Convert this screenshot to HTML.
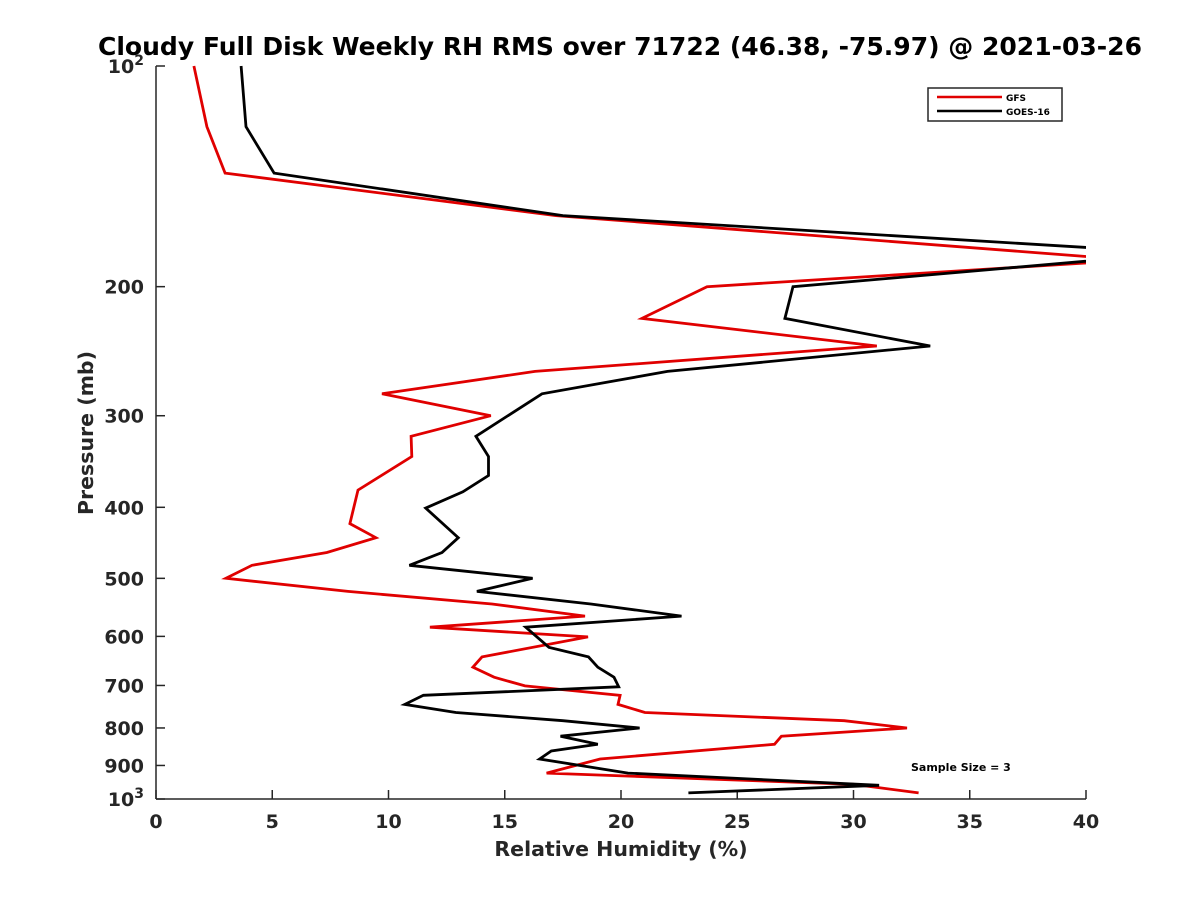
<!DOCTYPE html>
<html><head><meta charset="utf-8"><style>
body{margin:0;background:#fff;}
svg{display:block;font-family:"DejaVu Sans","Liberation Sans",sans-serif;font-weight:bold;}
</style></head><body>
<svg id="chart" width="1200" height="900" viewBox="0 0 1200 900" xmlns="http://www.w3.org/2000/svg">
<defs><clipPath id="plotclip"><rect x="156" y="60" width="930" height="745"/></clipPath></defs>
<rect width="1200" height="900" fill="#fff"/>
<text x="620" y="55" font-size="24.5" text-anchor="middle" fill="#000" textLength="1044" lengthAdjust="spacingAndGlyphs">Cloudy Full Disk Weekly RH RMS over 71722 (46.38, -75.97) @ 2021-03-26</text>
<g id="axes"></g>
<g id="series" clip-path="url(#plotclip)"></g>
<text x="621" y="856" font-size="20.5" text-anchor="middle" fill="#262626">Relative Humidity (%)</text>
<text transform="translate(93,433) rotate(-90)" font-size="20.5" text-anchor="middle" fill="#262626">Pressure (mb)</text>
<g>
<rect x="928" y="88" width="134" height="33" fill="#fff" stroke="#262626" stroke-width="1.5"/>
<line x1="937" y1="97" x2="1002" y2="97" stroke="#e00000" stroke-width="2.5"/>
<text x="1006" y="101" font-size="9" fill="#000">GFS</text>
<line x1="937" y1="111" x2="1002" y2="111" stroke="#000" stroke-width="2.5"/>
<text x="1006" y="115" font-size="9" fill="#000">GOES-16</text>
</g>
<text x="911" y="771" font-size="11" fill="#000">Sample Size = 3</text>
</svg>
<script>
const xTicks = [0,5,10,15,20,25,30,35,40];
const yTicks = [100,200,300,400,500,600,700,800,900,1000];
const yTickLabels = ["10|2","200","300","400","500","600","700","800","900","10|3"];
const gfsP = [100,121,140,160,184,200,221,241,261,280,300,320,341,379,421,440,461,480,500,521,542,563,583,601,640,661,682,701,722,743,762,782,800,821,842,882,922,955,981];
const gfsV = [1.63,2.19,2.97,17.2,42,23.7,20.9,31.0,16.3,9.72,14.4,10.97,11.0,8.69,8.34,9.46,7.35,4.13,3.01,8.26,14.45,18.45,11.78,18.58,14.02,13.63,14.54,15.87,19.96,19.87,21.03,29.6,32.3,26.9,26.6,19.1,16.8,30.0,32.8];
const goesP = [100,121,140,160,180,200,221,241,261,280,320,341,362,381,401,440,461,480,500,521,542,563,583,621,640,661,682,703,722,743,762,782,800,821,842,860,882,922,958,981];
const goesV = [3.66,3.87,5.08,17.5,44,27.4,27.05,33.3,22.0,16.6,13.76,14.3,14.3,13.2,11.6,13.0,12.3,10.9,16.2,13.8,18.7,22.6,15.9,16.9,18.6,19.0,19.7,19.9,11.5,10.7,12.9,17.5,20.8,17.4,19.0,17.0,16.5,20.3,31.1,22.9];

const NS="http://www.w3.org/2000/svg";
const X0=156,X1=1086,Y0=66,Y1=799;
function xs(v){return X0+(v-0)/(40-0)*(X1-X0);}
function ys(p){return Y0+(Math.log10(p)-2)*(Y1-Y0);}
const axes=document.getElementById('axes');
function mk(tag,attrs,parent){const e=document.createElementNS(NS,tag);for(const k in attrs)e.setAttribute(k,attrs[k]);parent.appendChild(e);return e;}
mk('line',{x1:X0,y1:Y0,x2:X0,y2:Y1,stroke:'#262626','stroke-width':1.5},axes);
mk('line',{x1:X0,y1:Y1,x2:X1,y2:Y1,stroke:'#262626','stroke-width':1.5},axes);
xTicks.forEach(t=>{
  const x=xs(t);
  mk('line',{x1:x,y1:Y1,x2:x,y2:Y1-9,stroke:'#262626','stroke-width':1.5},axes);
  const tx=mk('text',{x:x,y:Y1+29,'font-size':19,'text-anchor':'middle',fill:'#262626'},axes);
  
  
  tx.textContent=t;
});
yTicks.forEach((t,i)=>{
  const y=ys(t);
  mk('line',{x1:X0,y1:y,x2:X0+9,y2:y,stroke:'#262626','stroke-width':1.5},axes);
  const lab=yTickLabels[i];
  const tx=mk('text',{x:X0-12,y:y+7,'font-size':19,'text-anchor':'end',fill:'#262626'},axes);
  
  
  if(lab.indexOf('|')>=0){
    const parts=lab.split('|');
    const a=mk('tspan',{},tx);a.textContent=parts[0];
    const b=mk('tspan',{dy:-8,'font-size':14},tx);b.textContent=parts[1];
  } else tx.textContent=lab;
});
const series=document.getElementById('series');
function line(P,V,color,name){
  const pts=P.map((p,i)=>xs(V[i]).toFixed(1)+','+ys(p).toFixed(1)).join(' ');
  const pl=mk('polyline',{points:pts,fill:'none',stroke:color,'stroke-width':2.8,'stroke-linejoin':'miter'},series);
  
  
}
line(gfsP,gfsV,'#e00000','gfs-line');
line(goesP,goesV,'#000000','goes16-line');
</script>
</body></html>
